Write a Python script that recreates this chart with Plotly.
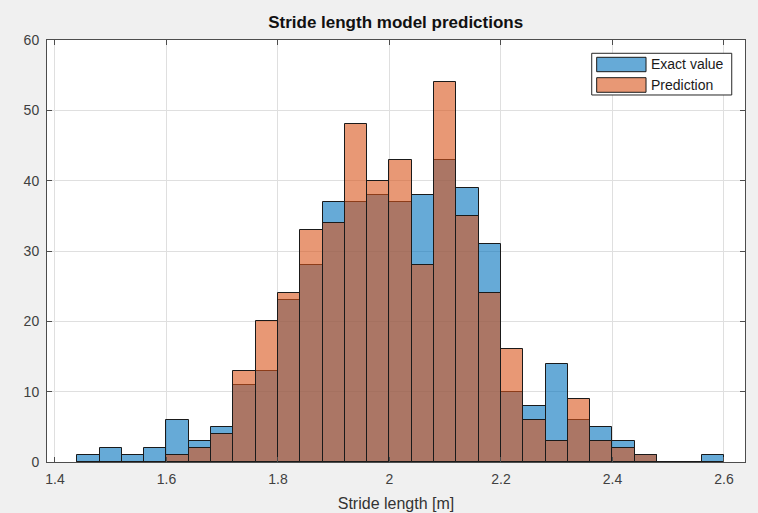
import plotly.graph_objects as go

# Histogram bins (left edges, width 0.04 m)
bin_left = [1.44, 1.48, 1.52, 1.56, 1.60, 1.64, 1.68, 1.72, 1.76, 1.80,
            1.84, 1.88, 1.92, 1.96, 2.00, 2.04, 2.08, 2.12, 2.16, 2.20,
            2.24, 2.28, 2.32, 2.36, 2.40, 2.44, 2.48, 2.52, 2.56]
bin_width = 0.04

# Counts per bin
exact_counts = [1, 2, 1, 2, 6, 3, 5, 11, 13, 23,
                28, 37, 37, 38, 37, 38, 43, 39, 31, 10,
                8, 14, 6, 5, 3, 1, 0, 0, 1]
pred_counts = [0, 0, 0, 0, 1, 2, 4, 13, 20, 24,
               33, 34, 48, 40, 43, 28, 54, 35, 24, 16,
               6, 3, 9, 3, 2, 1, 0, 0, 0]

series_names = ["Exact value", "Prediction"]
fill_colors = ["rgba(0,114,189,0.6)", "rgba(217,83,25,0.6)"]

x_ticks = [1.4, 1.6, 1.8, 2.0, 2.2, 2.4, 2.6]
x_tick_text = ["1.4", "1.6", "1.8", "2", "2.2", "2.4", "2.6"]
y_ticks = [0, 10, 20, 30, 40, 50, 60]

centers = [b + bin_width / 2 for b in bin_left]

fig = go.Figure()
for name, counts, col in zip(series_names, [exact_counts, pred_counts], fill_colors):
    fig.add_trace(go.Bar(
        x=centers, y=counts, width=bin_width, name=name,
        marker=dict(color=col, line=dict(color="#1a1a1a", width=1)),
        showlegend=False,
    ))

FONT = "Liberation Sans, Arial, sans-serif"
axis_color = "#4d4d4d"

fig.update_layout(
    width=758, height=513,
    margin=dict(l=47, r=13, t=40, b=51),
    paper_bgcolor="#f0f0f0",
    plot_bgcolor="white",
    barmode="overlay",
    bargap=0,
    font=dict(family=FONT, size=14, color="#404040"),
    title=dict(text="<b>Stride length model predictions</b>",
               x=0.522, xanchor="center", y=1 - 22 / 513, yref="container",
               yanchor="middle", font=dict(size=17, color="#111111")),
    xaxis=dict(range=[1.3857, 2.6377], tickvals=x_ticks, ticktext=x_tick_text,
               ticks="inside", ticklen=5, tickcolor=axis_color,
               ticklabelstandoff=4,
               showline=True, linecolor=axis_color, linewidth=1, mirror="allticks",
               showgrid=True, gridcolor="#dfdfdf", gridwidth=1, zeroline=False,
               title=dict(text="Stride length [m]", standoff=12, font=dict(size=16, color="#333333")),
               automargin=False),
    yaxis=dict(range=[0, 60], tickvals=y_ticks,
               ticks="inside", ticklen=5, tickcolor=axis_color,
               ticklabelstandoff=4,
               showline=True, linecolor=axis_color, linewidth=1, mirror="allticks",
               showgrid=True, gridcolor="#dfdfdf", gridwidth=1, zeroline=False,
               automargin=False),
)

# Legend box with wide colour patches
fig.add_shape(type="rect", xref="paper", yref="paper",
              x0=0.7804, x1=0.981, y0=0.8697, y1=0.9685,
              line=dict(color="#262626", width=1), fillcolor="white", layer="above")
patch_rows = [(0.9249, 0.9590, 0.9420), (0.8761, 0.9107, 0.8934)]
for (y0, y1, yc), name, col in zip(patch_rows, series_names, fill_colors):
    fig.add_shape(type="rect", xref="paper", yref="paper",
                  x0=0.7875, x1=0.8582, y0=y0, y1=y1,
                  line=dict(color="#1a1a1a", width=1), fillcolor=col, layer="above")
    fig.add_annotation(x=0.8625, y=yc, xref="paper", yref="paper",
                       text=name, showarrow=False, xanchor="left", yanchor="middle",
                       font=dict(size=14, color="#1a1a1a"))

fig.write_html("out.html")
